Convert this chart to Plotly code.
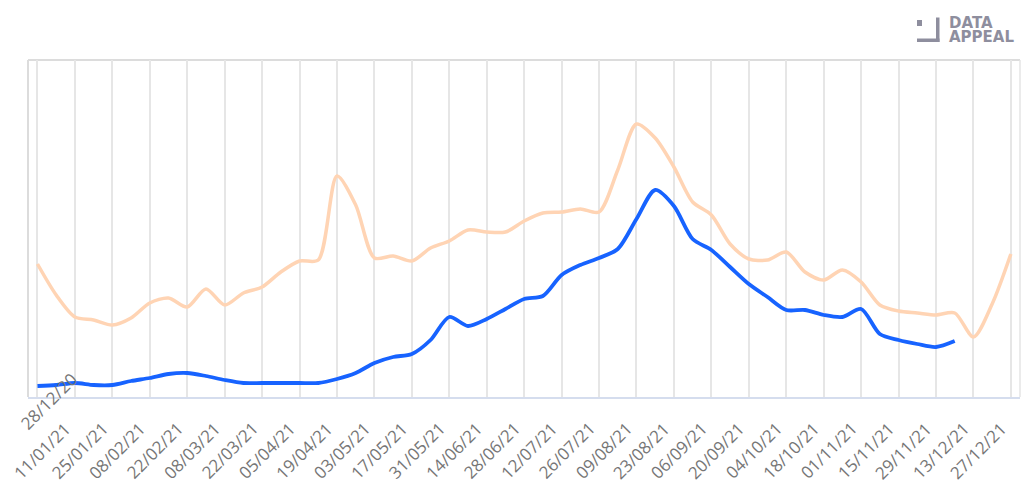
import pandas as pd
import plotly.graph_objects as go

# Weekly dates (Mondays) from 28/12/2020 to 27/12/2021
dates = pd.date_range("2020-12-28", periods=53, freq="7D")

# Series values (arbitrary index units)
orange_vals = [133, 102, 80, 77, 72, 79, 94, 99, 90, 108, 92, 104, 110, 125, 136, 137,
               221, 192, 139, 141, 136, 149, 156, 167, 165, 165, 176, 184, 185, 188, 185,
               227, 273, 259, 230, 195, 182, 153, 138, 137, 145, 125, 117, 127, 115, 92,
               86, 84, 82, 84, 60, 93, 143]
blue_vals = [11, 12, 14, 12, 12, 16, 19, 23, 24, 21, 17, 14, 14, 14, 14, 14,
             18, 24, 34, 40, 43, 57, 80, 71, 78, 88, 98, 101, 122, 132, 139,
             148, 178, 207, 191, 158, 147, 130, 113, 100, 87, 87, 82, 80, 88, 63,
             57, 53, 50, 56]

tick_dates = pd.date_range("2020-12-28", periods=27, freq="14D")
tick_labels = ["28/12/20", "11/01/21", "25/01/21", "08/02/21", "22/02/21", "08/03/21",
               "22/03/21", "05/04/21", "19/04/21", "03/05/21", "17/05/21", "31/05/21",
               "14/06/21", "28/06/21", "12/07/21", "26/07/21", "09/08/21", "23/08/21",
               "06/09/21", "20/09/21", "04/10/21", "18/10/21", "01/11/21", "15/11/21",
               "29/11/21", "13/12/21", "27/12/21"]

ORANGE = "#ffd4b4"
BLUE = "#1763ff"
LOGO = "#8e8e9e"
LABEL_FONT = dict(family="Open Sans", size=17, color="#767676")

fig = go.Figure()
fig.add_trace(go.Scatter(x=dates, y=orange_vals, mode="lines",
                         line=dict(color=ORANGE, width=3.5, shape="spline", smoothing=0.8),
                         hoverinfo="skip"))
fig.add_trace(go.Scatter(x=dates[:len(blue_vals)], y=blue_vals, mode="lines",
                         line=dict(color=BLUE, width=3.8, shape="spline", smoothing=0.8),
                         hoverinfo="skip"))

# plot area in pixels: x 28..1020, y 60..397
L, R, T, B = 28, 1020, 60, 397
W, H = R - L, B - T


def px(x):
    return (x - L) / W


def py(y):
    return (B - y) / H


shapes = [
    # frame (left, top, right)
    dict(type="line", xref="paper", yref="paper", x0=0, x1=0, y0=0, y1=1,
         line=dict(color="#dcdcdc", width=2), layer="below"),
    dict(type="line", xref="paper", yref="paper", x0=0, x1=1, y0=1, y1=1,
         line=dict(color="#dcdcdc", width=2), layer="below"),
    dict(type="line", xref="paper", yref="paper", x0=1, x1=1, y0=0, y1=1,
         line=dict(color="#e4e4e4", width=1.5), layer="below"),
    # logo icon
    dict(type="rect", xref="paper", yref="paper", x0=px(917), x1=px(922), y0=py(26), y1=py(20),
         fillcolor=LOGO, line=dict(width=0)),
    dict(type="rect", xref="paper", yref="paper", x0=px(936), x1=px(939.5), y0=py(42), y1=py(17.5),
         fillcolor=LOGO, line=dict(width=0)),
    dict(type="rect", xref="paper", yref="paper", x0=px(917), x1=px(939.5), y0=py(42), y1=py(38.5),
         fillcolor=LOGO, line=dict(width=0)),
]

annotations = [
    dict(text="<b>DATA</b>", xref="paper", yref="paper", x=px(948), y=py(23),
         xanchor="left", yanchor="middle", showarrow=False, borderpad=0,
         font=dict(family="DejaVu Sans", size=15, color=LOGO)),
    dict(text="<b>APPEAL</b>", xref="paper", yref="paper", x=px(948), y=py(36.5),
         xanchor="left", yanchor="middle", showarrow=False, borderpad=0,
         font=dict(family="DejaVu Sans", size=15, color=LOGO)),
    # first date label sits raised, as in the original
    dict(text=tick_labels[0], xref="paper", yref="paper", x=px(48), y=py(401),
         xanchor="center", yanchor="middle", textangle=-45, showarrow=False,
         font=LABEL_FONT),
]
# remaining date labels, rotated, ending just left of their grid line
for d, lab in zip(tick_dates[1:], tick_labels[1:]):
    annotations.append(dict(text=lab, xref="x", yref="paper", x=d, y=py(450), xshift=-33,
                            xanchor="center", yanchor="middle", textangle=-45,
                            showarrow=False, font=LABEL_FONT))

fig.update_layout(
    width=1024, height=495,
    margin=dict(l=L, r=1024 - R, t=T, b=495 - B, autoexpand=False),
    paper_bgcolor="white", plot_bgcolor="white",
    showlegend=False,
    shapes=shapes,
    annotations=annotations,
    xaxis=dict(
        range=["2020-12-24 11:00", "2021-12-30 10:00"],
        tickmode="array", tickvals=list(tick_dates),
        showticklabels=False, automargin=False,
        showgrid=True, gridcolor="#e6e6e6", gridwidth=1.5,
        showline=True, linecolor="#d5ddee", linewidth=2,
        ticks="", zeroline=False, fixedrange=True,
    ),
    yaxis=dict(range=[0, 337], showgrid=False, showticklabels=False, automargin=False,
               zeroline=False, showline=False, ticks="", fixedrange=True),
)

fig.write_html("out.html", config={"displayModeBar": False},
               post_script="document.body.style.margin='0';document.body.style.overflow='hidden';")
